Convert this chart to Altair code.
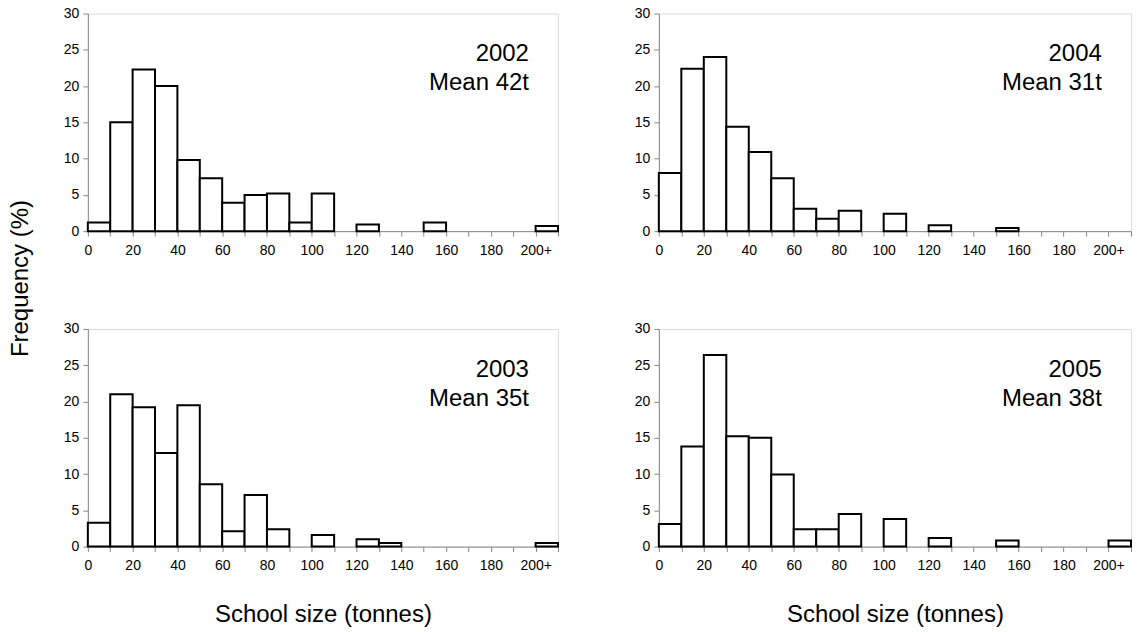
import altair as alt
import pandas as pd

# Bin edges (tonnes); last bin is "200+"
bin_starts = list(range(0, 210, 10))
bin_ends = list(range(10, 220, 10))

freq_2002 = [1.2, 15.0, 22.3, 20.0, 9.8, 7.3, 3.9, 5.0, 5.2, 1.2, 5.2, 0, 0.9, 0, 0, 1.2, 0, 0, 0, 0, 0.7]
freq_2004 = [8.0, 22.4, 24.0, 14.4, 10.9, 7.3, 3.1, 1.7, 2.8, 0, 2.4, 0, 0.8, 0, 0, 0.45, 0, 0, 0, 0, 0]
freq_2003 = [3.3, 21.0, 19.2, 12.9, 19.5, 8.6, 2.1, 7.1, 2.4, 0, 1.6, 0, 1.0, 0.5, 0, 0, 0, 0, 0, 0, 0.5]
freq_2005 = [3.1, 13.8, 26.4, 15.2, 15.0, 9.95, 2.4, 2.4, 4.5, 0, 3.8, 0, 1.2, 0, 0, 0.85, 0, 0, 0, 0, 0.85]

years = ["2002", "2004", "2003", "2005"]
means = ["Mean 42t", "Mean 31t", "Mean 35t", "Mean 38t"]

x_ticks = list(range(0, 211, 10))
y_ticks = [0, 5, 10, 15, 20, 25, 30]

FONT = "Liberation Sans"
X_TITLE = "School size (tonnes)"
Y_TITLE = "Frequency (%)"


def panel(vals, year, mean, w, h, ytitle=False, xtitle=False):
    df = pd.DataFrame({"start": bin_starts, "end": bin_ends, "freq": vals})
    df = df[df["freq"] > 0].copy()
    df["base"] = 0

    xaxis_kw = dict(
        values=x_ticks,
        labelExpr="datum.value % 20 == 0 ? (datum.value == 200 ? '200+' : '' + datum.value) : ''",
        labelOverlap=False,
        labelFlush=False,
        tickSize=5,
        labelPadding=7,
        grid=False,
        labelFontSize=14,
    )
    if xtitle:
        xaxis_kw.update(title=X_TITLE, titleX=w / 2, titleY=75, titleBaseline="alphabetic",
                        titleAlign="center", titleFontSize=24, titleFontWeight=400)
    else:
        xaxis_kw.update(title=None)

    yaxis_kw = dict(values=y_ticks, tickSize=5, labelPadding=4, grid=False, labelFontSize=14,
                    labelOverlap=False)
    if ytitle:
        yaxis_kw.update(title=Y_TITLE, titleX=-60, titleY=265, titleAngle=270,
                        titleAlign="center", titleBaseline="alphabetic", titleFontSize=24,
                        titleFontWeight=400)
    else:
        yaxis_kw.update(title=None)

    xs = alt.Scale(domain=[0, 210], nice=False, zero=False)
    ys = alt.Scale(domain=[0, 30], nice=False)
    xa = alt.Axis(**xaxis_kw)
    ya = alt.Axis(**yaxis_kw)

    bars = alt.Chart(df).mark_rect(fill="white", stroke="black", strokeWidth=2).encode(
        x=alt.X("start:Q", scale=xs, axis=xa),
        x2="end:Q",
        y=alt.Y("freq:Q", scale=ys, axis=ya),
        y2="base:Q",
    )

    ann = pd.DataFrame({"label": [year, mean], "x": [197, 197], "y": [23.4, 19.4]})
    text = alt.Chart(ann).mark_text(
        align="right", baseline="alphabetic", fontSize=24, font=FONT, color="black"
    ).encode(
        x=alt.X("x:Q", scale=xs, axis=xa),
        y=alt.Y("y:Q", scale=ys, axis=ya),
        text="label:N",
    )
    return alt.layer(bars, text).properties(width=w, height=h)


p2002 = panel(freq_2002, years[0], means[0], 471, 218, ytitle=True)
p2004 = panel(freq_2004, years[1], means[1], 473, 218)
p2003 = panel(freq_2003, years[2], means[2], 471, 218, xtitle=True)
p2005 = panel(freq_2005, years[3], means[3], 473, 218, xtitle=True)

chart = alt.concat(
    p2002, p2004, p2003, p2005, columns=2,
    spacing={"row": 98, "column": 101}, bounds="flush"
).properties(
    padding={"left": 8, "top": 5, "right": 5, "bottom": 5}
).configure_view(
    stroke="#8c8c8c", strokeWidth=1
).configure_axis(
    labelFont=FONT, titleFont=FONT, labelColor="black", titleColor="black",
    titleFontWeight="normal", domainColor="black", tickColor="black", domainWidth=1, tickWidth=1
).configure(background="white")

chart.save("out.html", embed_options={"renderer": "svg", "actions": False})
